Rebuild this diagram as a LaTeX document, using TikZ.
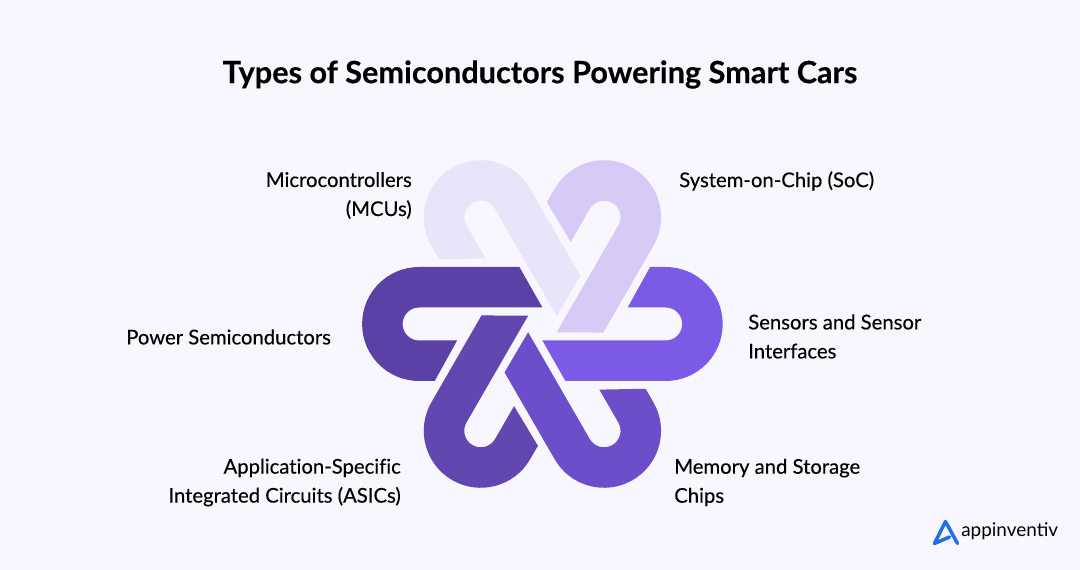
\documentclass[tikz,border=0pt]{standalone}
\usepackage{fontspec}
\setmainfont{Lato}[BoldFeatures={FakeBold=0.3}]
\newfontfamily\lblfont[FakeBold=0.25,Ligatures=NoCommon]{Lato}
\usepackage{xcolor}
\definecolor{paper}{HTML}{F8F6FE}
\definecolor{bandmcu}{HTML}{E9E4FA}
\definecolor{bandsoc}{HTML}{D5CBF6}
\definecolor{bandsensor}{HTML}{7B5AE6}
\definecolor{bandmemory}{HTML}{6C4DCA}
\definecolor{bandasic}{HTML}{6247B0}
\definecolor{bandpower}{HTML}{5B41A6}
\definecolor{logoblue}{HTML}{1F6FEB}
\tikzset{
  lbl/.style={inner sep=0pt,text=black,font=\lblfont\fontsize{15.2}{21.75}\selectfont},
}
\begin{document}
\begin{tikzpicture}[x=0.75pt,y=0.75pt]
\useasboundingbox (0,0) rectangle (1080,570);
\fill[paper] (0,0) rectangle (1080,570);
\node (title) at (540,495.5)[inner sep=0pt,font=\fontsize{23}{26}\selectfont\bfseries]{Types of Semiconductors Powering Smart Cars};
% the six bands
\foreach \ang/\col in {120/bandmcu,60/bandsoc,0/bandsensor,-60/bandmemory,-120/bandasic,180/bandpower}{
  \fill[\col,shift={(542.4,246)},rotate=\ang] (85.3,16.5) -- (107.7,57) -- (123.3,57)
    arc[start angle=90,end angle=-90,radius=57] -- (23,-57) -- (0,-16.5) -- (123.3,-16.5)
    arc[start angle=-90,end angle=90,radius=16.5] -- cycle;
}
\node (mcu) at (412,374.5)[lbl,anchor=east,align=right]{Microcontrollers\\(MCUs)};
\node (soc) at (679,389)[lbl,anchor=west]{System-on-Chip (SoC)};
\node (sensor) at (748,233.5)[lbl,anchor=west,align=left]{Sensors and Sensor\\Interfaces};
\node (memory) at (674,87.5)[lbl,anchor=west,align=left]{Memory and Storage\\Chips};
\node (asic) at (401,87.5)[lbl,anchor=east,align=right]{Application-Specific\\Integrated Circuits (ASICs)};
\node (power) at (126,233)[lbl,anchor=west]{Power Semiconductors};
% logo
\draw[logoblue,line width=2.6pt,line join=round,line cap=round] (957.5,26.5) -- (945.5,48.5) -- (934.5,26.5) -- (949.5,33);
\node (logo) at (961,33)[anchor=base west,inner sep=0pt,font=\fontsize{14.2}{16}\selectfont]{appinventiv};
\end{tikzpicture}
\end{document}
